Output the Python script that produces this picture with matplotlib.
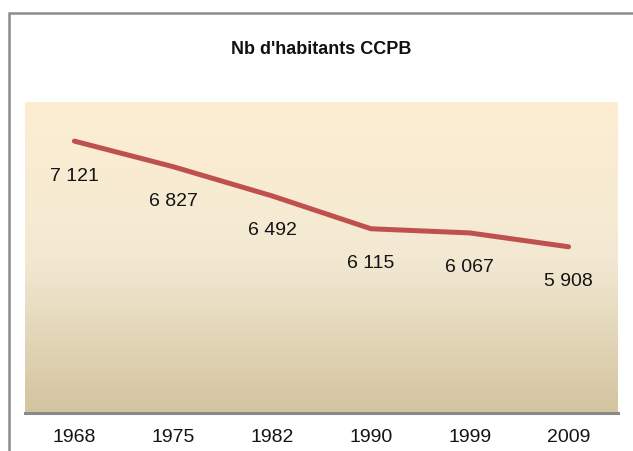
import matplotlib
matplotlib.use("Agg")
import matplotlib.pyplot as plt
import numpy as np
from matplotlib.colors import LinearSegmentedColormap
from matplotlib.patches import Rectangle

# --- Data ---
years = ["1968", "1975", "1982", "1990", "1999", "2009"]
population = [7121, 6827, 6492, 6115, 6067, 5908]
labels = ["7 121", "6 827", "6 492", "6 115", "6 067", "5 908"]

FONT = ["Liberation Sans", "DejaVu Sans"]
LINE_COLOR = "#c0504d"

fig = plt.figure(figsize=(6.33, 4.52), dpi=100)

# outer chart frame (runs past the right and bottom edges)
frame = Rectangle((8.5 / 633, -0.2), 1.3, 1.2 - 13.5 / 452,
                  transform=fig.transFigure, fill=False,
                  edgecolor="#8c8c8c", linewidth=1.8)
fig.patches.append(frame)

ax = fig.add_axes([25 / 633, 1 - 414 / 452, 593 / 633, 311 / 452])

x = np.arange(len(years))
ymin, ymax = 4000, 7570

# vertical gradient background
grad = LinearSegmentedColormap.from_list("bg", ["#d3c49f", "#f3e9d3", "#fdeed2"])
ax.imshow(np.linspace(0, 1, 256).reshape(-1, 1), cmap=grad, origin="lower",
          aspect="auto", extent=(-0.5, len(years) - 0.5, ymin, ymax), zorder=0)

ax.plot(x, population, color=LINE_COLOR, linewidth=3.6,
        solid_capstyle="round", zorder=3)

for xi, v, lab in zip(x, population, labels):
    ax.annotate(lab, (xi, v), xytext=(0, -24.5), textcoords="offset points",
                ha="center", va="center", fontsize=14, family=FONT,
                color="#141414")

ax.set_xlim(-0.5, len(years) - 0.5)
ax.set_ylim(ymin, ymax)
ax.set_xticks(x)
ax.set_xticklabels(years, family=FONT, fontsize=14, color="#141414")
ax.tick_params(axis="x", length=0, pad=11)
ax.set_yticks([])

for side in ["top", "left", "right"]:
    ax.spines[side].set_visible(False)
ax.spines["bottom"].set_color("#8a8a8a")
ax.spines["bottom"].set_linewidth(2.2)

fig.text(321 / 633, 1 - 50 / 452, "Nb d'habitants CCPB", ha="center",
         va="center", fontsize=13, fontweight="bold", family=FONT,
         color="#111111")

fig.savefig("out.png", dpi=100)
